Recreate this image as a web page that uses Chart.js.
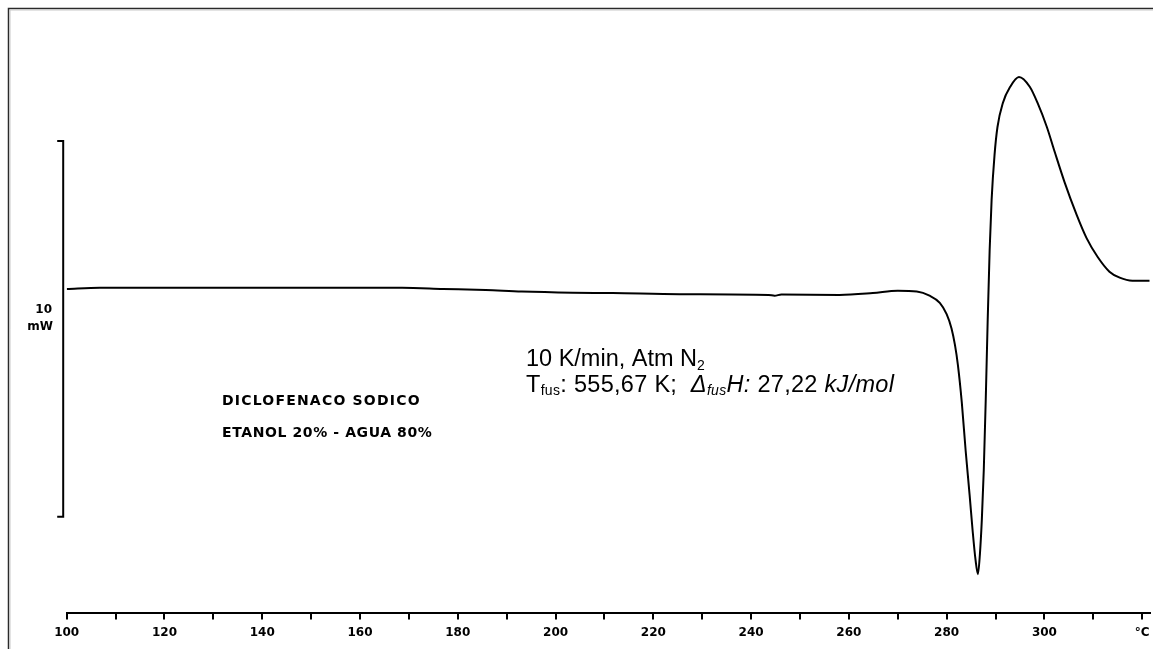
<!DOCTYPE html>
<html>
<head>
<meta charset="utf-8">
<script src="https://cdn.jsdelivr.net/npm/chart.js@4/dist/chart.umd.min.js"></script>
<style>
  html, body { margin: 0; padding: 0; background: #fff; }
  #wrap { width: 1153px; height: 649px; }
</style>
</head>
<body>
<div id="wrap"><canvas id="grafDSC"></canvas></div>
<script>
// DATOS DSC (temperatura en °C, flujo de calor en mW, linea base = 0)
const temps = [100, 106.8, 168.6, 177.0, 185.7, 193.1, 203.5, 211.7, 225.4, 243.6, 244.8, 246.2,
    258.1, 264.9, 270.0, 273.9, 276.5, 278.6, 280.0, 281.0, 281.7, 282.3, 283.1, 283.9, 284.7,
    285.3, 285.9, 286.4, 286.8, 287.2, 287.6, 288.0, 288.4, 288.8, 289.2, 289.8, 290.4, 291.5,
    293.0, 294.8, 297.0, 298.6, 300.5, 302.1, 304.1, 306.6, 308.6, 310.9, 313.3, 315.4, 318.0, 321.5];
const heatFlow = [-0.03, 0, 0, -0.03, -0.06, -0.10, -0.13, -0.14, -0.17, -0.19, -0.21, -0.18,
    -0.19, -0.14, -0.08, -0.10, -0.21, -0.40, -0.70, -1.08, -1.52, -2.05, -3.05, -4.35, -5.51,
    -6.44, -7.23, -7.62, -7.10, -6.17, -4.84, -2.98, -0.85, 1.01, 2.34, 3.54, 4.28, 4.92,
    5.35, 5.61, 5.35, 4.92, 4.28, 3.62, 2.82, 1.94, 1.33, 0.82, 0.43, 0.27, 0.19, 0.19];

// ticks del eje x: cada 10, etiqueta cada 20, el ultimo lleva la unidad
const xTicks = [100, 110, 120, 130, 140, 150, 160, 170, 180, 190, 200, 210, 220, 230, 240,
    250, 260, 270, 280, 290, 300, 310, 320];
const xLabels = ['100', '', '120', '', '140', '', '160', '', '180', '', '200', '', '220', '',
    '240', '', '260', '', '280', '', '300', '', '°C'];

// barra de escala: 10 mW
const barraEscala = [3.91, -6.09];
const barraTexto = ['10', 'mW'];

const textoMuestra = ['DICLOFENACO SODICO', 'ETANOL 20% - AGUA 80%'];

const puntos = temps.map((t, i) => ({ x: t, y: heatFlow[i] }));

const extras = {
    id: 'extras',
    beforeDraw(chart) {
        const ctx = chart.ctx;
        ctx.save();
        ctx.fillStyle = '#fff';
        ctx.fillRect(0, 0, chart.width, chart.height);
        // marco
        ctx.strokeStyle = '#2a2a2a';
        ctx.lineWidth = 1.5;
        ctx.beginPath();
        ctx.moveTo(8.5, chart.height);
        ctx.lineTo(8.5, 8.5);
        ctx.lineTo(chart.width, 8.5);
        ctx.stroke();
        ctx.strokeStyle = '#c8c8c8';
        ctx.lineWidth = 1;
        ctx.beginPath();
        ctx.moveTo(10, chart.height);
        ctx.lineTo(10, 10);
        ctx.lineTo(chart.width, 10);
        ctx.stroke();
        ctx.restore();
    },
    afterDraw(chart) {
        const ctx = chart.ctx;
        const y = chart.scales.y;
        const area = chart.chartArea;
        ctx.save();

        // barra de escala
        const bx = area.left - 3.5;
        const y1 = y.getPixelForValue(barraEscala[0]);
        const y2 = y.getPixelForValue(barraEscala[1]);
        ctx.strokeStyle = '#000';
        ctx.lineWidth = 2;
        ctx.beginPath();
        ctx.moveTo(bx - 6, y1);
        ctx.lineTo(bx, y1);
        ctx.lineTo(bx, y2);
        ctx.lineTo(bx - 6, y2);
        ctx.stroke();
        ctx.fillStyle = '#000';
        ctx.font = 'bold 12px "DejaVu Sans"';
        ctx.textAlign = 'right';
        ctx.textBaseline = 'middle';
        ctx.fillText(barraTexto[0], 52, 310);
        ctx.fillText(barraTexto[1], 53, 327);

        // nombre de la muestra
        ctx.textAlign = 'left';
        ctx.font = 'bold 14px "DejaVu Sans"';
        ctx.letterSpacing = '1.2px';
        ctx.fillText(textoMuestra[0], 222, 401);
        ctx.letterSpacing = '0.6px';
        ctx.fillText(textoMuestra[1], 222, 433);
        ctx.letterSpacing = '0px';

        // condiciones del ensayo
        ctx.textBaseline = 'alphabetic';
        let x = 526;
        const grande = '23.5px "Liberation Sans"';
        const chico = '14px "Liberation Sans"';
        const escribe = (txt, font, dy) => {
            ctx.font = font;
            ctx.fillText(txt, x, dy);
            x += ctx.measureText(txt).width;
        };
        escribe('10 K/min, Atm N', grande, 366);
        escribe('2', chico, 370);
        x = 526;
        ctx.letterSpacing = '0.3px';
        escribe('T', grande, 392);
        escribe('fus', chico, 395);
        escribe(': 555,67 K;  ', grande, 392);
        escribe('Δ', 'italic ' + grande, 392);
        escribe('fus', 'italic ' + chico, 395);
        escribe('H:', 'italic ' + grande, 392);
        escribe(' 27,22 ', grande, 392);
        escribe('kJ/mol', 'italic ' + grande, 392);
        ctx.restore();
    }
};

const grafico = new Chart(document.getElementById('grafDSC').getContext('2d'), {
    type: 'line',
    data: {
        datasets: [{
            data: puntos,
            borderColor: '#000',
            borderWidth: 2,
            pointRadius: 0,
            cubicInterpolationMode: 'monotone',
            fill: false
        }]
    },
    options: {
        responsive: true,
        maintainAspectRatio: false,
        animation: false,
        events: [],
        layout: { padding: { left: 66.7, right: 3, top: 20, bottom: 3 } },
        plugins: { legend: { display: false }, tooltip: { enabled: false } },
        scales: {
            x: {
                type: 'linear',
                min: 100,
                max: 321.6,
                afterBuildTicks: (scale) => { scale.ticks = xTicks.map(v => ({ value: v })); },
                afterFit: (scale) => { scale.paddingRight = 0; },
                ticks: {
                    autoSkip: false,
                    maxRotation: 0,
                    padding: 6,
                    color: '#000',
                    font: { family: '"DejaVu Sans"', weight: 'bold', size: 12 },
                    callback: (v) => xLabels[xTicks.indexOf(v)]
                },
                grid: {
                    drawOnChartArea: false,
                    drawTicks: true,
                    tickLength: 7,
                    color: '#000',
                    lineWidth: 2
                },
                border: { display: true, color: '#000', width: 2 }
            },
            y: {
                display: false,
                min: -8.644,
                max: 7.128
            }
        }
    },
    plugins: [extras]
});
</script>
</body>
</html>
